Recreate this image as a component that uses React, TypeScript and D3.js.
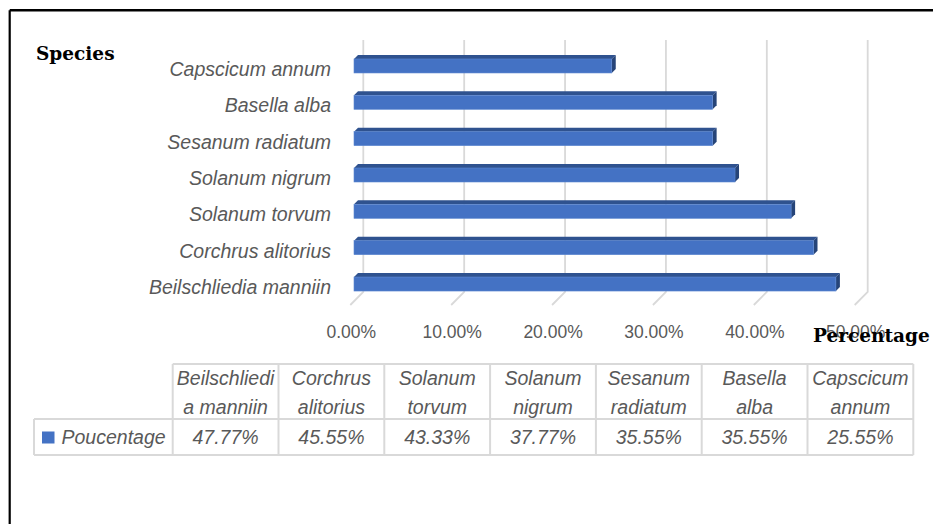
import React from "react";
import * as d3 from "d3";

// Species, listed bottom-to-top as plotted (same order as the data table)
const species = [
  "Beilschliedia manniin",
  "Corchrus alitorius",
  "Solanum torvum",
  "Solanum nigrum",
  "Sesanum radiatum",
  "Basella alba",
  "Capscicum annum",
];
// Header text of the data table, wrapped onto two lines
const headerLines = [
  ["Beilschliedi", "a manniin"],
  ["Corchrus", "alitorius"],
  ["Solanum", "torvum"],
  ["Solanum", "nigrum"],
  ["Sesanum", "radiatum"],
  ["Basella", "alba"],
  ["Capscicum", "annum"],
];
const percentages = [47.77, 45.55, 43.33, 37.77, 35.55, 35.55, 25.55];
const xTicks = [0, 10, 20, 30, 40, 50];
const seriesName = "Poucentage";

const W = 933;
const H = 524;
const LABEL_FONT = "'Liberation Sans', Arial, sans-serif";
const TITLE_FONT = "'DejaVu Serif', serif";
const GRAY = "#595959";
const GRID = "#d9d9d9";

export default function App() {
  // back wall of the plot (gridlines)
  const x = d3.scaleLinear().domain([0, 50]).range([363.3, 867.7]);
  const wallTop = 40;
  const wallBottom = 292;
  const floorDepth = 13; // diagonal offset of the floor
  const barShift = 9.3; // front face of bars sits this far left of the wall
  const depth = 4; // bar depth (top/side faces)
  const barH = 14;

  // top-to-bottom order for the vertical positions
  const topDown = [...species].reverse();
  const y = d3.scalePoint<string>().domain(topDown).range([47.8, 302.2]).padding(0.5);

  const fmtTick = (v: number) => d3.format(".2f")(v) + "%";

  // data table columns
  const tableX = d3.scaleBand<string>().domain(species).range([172.7, 913.3]);
  const legendX0 = 34;
  const rowTop = 364;
  const rowMid = 419;
  const rowBot = 455;

  return (
    <svg
      width={W}
      height={H}
      style={{ position: "absolute", left: 0, top: 0, background: "#fff" }}
    >
      {/* outer frame (left and top edges) */}
      <line x1={9.7} y1={10.3} x2={W} y2={10.3} stroke="#000" strokeWidth={2.5} />
      <line x1={9.7} y1={10.3} x2={9.7} y2={H} stroke="#000" strokeWidth={2.2} />

      {/* gridlines on the back wall and floor */}
      {xTicks.map((t) => (
        <polyline
          key={"g" + t}
          points={`${x(t)},${wallTop} ${x(t)},${wallBottom} ${x(t) - floorDepth},${wallBottom + floorDepth}`}
          fill="none"
          stroke={GRID}
          strokeWidth={1.8}
        />
      ))}

      {/* bars */}
      {species.map((s, i) => {
        const v = percentages[i];
        const x0 = x(0) - barShift;
        const x1 = x(v) - barShift;
        const yc = y(s)!;
        const yt = yc - barH / 2;
        return (
          <g key={s}>
            <polygon
              points={`${x0},${yt} ${x1},${yt} ${x1 + depth},${yt - depth} ${x0 + depth},${yt - depth}`}
              fill="#2f528f"
            />
            <polygon
              points={`${x1},${yt} ${x1 + depth},${yt - depth} ${x1 + depth},${yt - depth + barH} ${x1},${yt + barH}`}
              fill="#264478"
            />
            <rect x={x0} y={yt} width={x1 - x0} height={barH} fill="#4472c4" stroke="#5b86d0" strokeWidth={0.6} />
          </g>
        );
      })}

      {/* category labels */}
      {species.map((s) => (
        <text
          key={"l" + s}
          x={331}
          y={y(s)! + 10}
          textAnchor="end"
          fontFamily={LABEL_FONT}
          fontStyle="italic"
          fontSize={19.5}
          fill={GRAY}
        >
          {s}
        </text>
      ))}

      {/* value axis tick labels */}
      {xTicks.map((t) => (
        <text
          key={"t" + t}
          x={x(t) - 12}
          y={338}
          textAnchor="middle"
          fontFamily={LABEL_FONT}
          fontSize={17.5}
          fill={GRAY}
        >
          {fmtTick(t)}
        </text>
      ))}

      {/* axis titles */}
      <text x={36} y={60} fontFamily={TITLE_FONT} fontWeight="bold" fontSize={18.5} fill="#000">
        Species
      </text>
      <text x={813} y={342} fontFamily={TITLE_FONT} fontWeight="bold" fontSize={18.5} fill="#000">
        Percentage
      </text>

      {/* data table */}
      <g stroke={GRID} strokeWidth={2} fill="none">
        <line x1={tableX.range()[0]} y1={rowTop} x2={tableX.range()[1]} y2={rowTop} />
        <line x1={legendX0} y1={rowMid} x2={tableX.range()[1]} y2={rowMid} />
        <line x1={legendX0} y1={rowBot} x2={tableX.range()[1]} y2={rowBot} />
        <line x1={legendX0} y1={rowMid} x2={legendX0} y2={rowBot} />
        {species.map((s) => (
          <line key={"c" + s} x1={tableX(s)!} y1={rowTop} x2={tableX(s)!} y2={rowBot} />
        ))}
        <line x1={tableX.range()[1]} y1={rowTop} x2={tableX.range()[1]} y2={rowBot} />
      </g>
      {species.map((s, i) => {
        const cx = tableX(s)! + tableX.bandwidth() / 2;
        return (
          <g key={"h" + s} fontFamily={LABEL_FONT} fontStyle="italic" fontSize={19.5} fill={GRAY} textAnchor="middle">
            <text x={cx} y={385}>{headerLines[i][0]}</text>
            <text x={cx} y={413.5}>{headerLines[i][1]}</text>
            <text x={cx} y={444}>{d3.format(".2f")(percentages[i]) + "%"}</text>
          </g>
        );
      })}
      <rect x={42} y={431.5} width={12.5} height={12} fill="#4472c4" />
      <text x={61.5} y={444} fontFamily={LABEL_FONT} fontStyle="italic" fontSize={19.5} fill={GRAY}>
        {seriesName}
      </text>
    </svg>
  );
}
